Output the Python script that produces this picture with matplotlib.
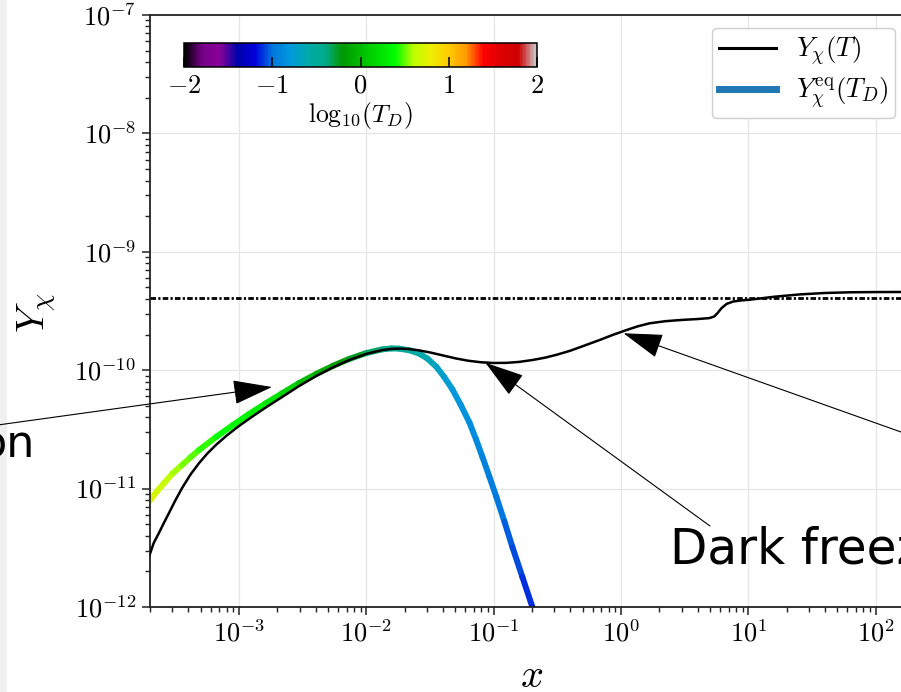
import numpy as np
import matplotlib
matplotlib.use("Agg")
import matplotlib.pyplot as plt
from matplotlib.collections import LineCollection
from matplotlib.colors import Normalize
from matplotlib.lines import Line2D
from matplotlib.patches import Rectangle
from matplotlib.ticker import LogLocator, FuncFormatter, NullFormatter

plt.rcParams['mathtext.fontset'] = 'cm'

# ---- data (log10 values) ----
black_logx = [-3.708, -3.670, -3.629, -3.590, -3.550, -3.500, -3.447, -3.380, -3.314, -3.250,
              -3.180, -3.100, -2.999, -2.900, -2.800, -2.661, -2.530, -2.394, -2.260, -2.135,
              -2.000, -1.875, -1.800, -1.742, -1.680, -1.600, -1.500, -1.400, -1.300, -1.200,
              -1.100, -1.000, -0.900, -0.800, -0.696, -0.600, -0.500, -0.400, -0.300, -0.168,
              -0.060, 0.043, 0.130, 0.224, 0.350, 0.483, 0.600, 0.695, 0.734, 0.760,
              0.790, 0.830, 0.880, 0.950, 1.009, 1.200, 1.402, 1.600, 1.795, 2.000, 2.306]
black_logy = [-11.578, -11.460, -11.375, -11.290, -11.206, -11.100, -10.995, -10.880, -10.785, -10.705,
              -10.630, -10.555, -10.470, -10.395, -10.322, -10.226, -10.135, -10.049, -9.975, -9.914,
              -9.862, -9.830, -9.820, -9.818, -9.820, -9.830, -9.850, -9.875, -9.900, -9.920,
              -9.933, -9.939, -9.938, -9.930, -9.914, -9.895, -9.868, -9.836, -9.797, -9.745,
              -9.700, -9.661, -9.630, -9.604, -9.586, -9.575, -9.568, -9.560, -9.545, -9.515,
              -9.475, -9.440, -9.420, -9.410, -9.405, -9.380, -9.360, -9.348, -9.342, -9.340, -9.339]

eq_logx = [-3.708, -3.650, -3.590, -3.520, -3.447, -3.380, -3.314, -3.180, -3.050, -2.921,
           -2.790, -2.661, -2.530, -2.394, -2.260, -2.135, -2.000, -1.875, -1.800, -1.742,
           -1.660, -1.584, -1.520, -1.451, -1.390, -1.325, -1.260, -1.191, -1.140, -1.089,
           -1.035, -0.979, -0.915, -0.853, -0.775, -0.696, -0.664]
eq_logy = [-11.113, -11.030, -10.955, -10.870, -10.800, -10.735, -10.674, -10.564, -10.465, -10.370,
           -10.280, -10.195, -10.110, -10.032, -9.962, -9.905, -9.855, -9.824, -9.816, -9.818,
           -9.832, -9.860, -9.902, -9.970, -10.055, -10.160, -10.290, -10.440, -10.580, -10.730,
           -10.895, -11.070, -11.280, -11.493, -11.745, -12.000, -12.110]
eq_logTD = [0.75, 0.70, 0.65, 0.60, 0.55, 0.51, 0.48, 0.42, 0.38, 0.33,
            0.27, 0.20, 0.08, -0.05, -0.14, -0.22, -0.31, -0.40, -0.44, -0.48,
            -0.53, -0.58, -0.63, -0.68, -0.73, -0.78, -0.82, -0.86, -0.89, -0.92,
            -0.95, -0.98, -1.02, -1.05, -1.09, -1.13, -1.15]

y_ref = 4.09e-10
cbar_ticks = [-2, -1, 0, 1, 2]

# annotation tips (data, log10) and tails (figure pixels)
arrow_tips_logx = [-2.741, -1.065, 0.0197]
arrow_tips_logy = [-10.142, -9.937, -9.688]
arrow_tails_px = [(-60, 259), (710, 166), (960, 239)]

# ---- figure ----
W, H = 901, 692
fig = plt.figure(figsize=(W / 100, H / 100), dpi=100)
fig.patch.set_facecolor('white')
fig.add_artist(Rectangle((0, 0), 7 / W, 1, transform=fig.transFigure,
                         facecolor='#f0f0f0', edgecolor='none', zorder=0))

ax = fig.add_axes([150 / W, 85 / H, (914 - 150) / W, (607 - 15) / H])
ax.set_xscale('log')
ax.set_yscale('log')
ax.set_xlim(2e-4, 200)
ax.set_ylim(1e-12, 1e-7)

ax.grid(True, which='major', color='#e6e6e6', lw=0.9, zorder=0)
ax.set_axisbelow(True)
for s in ax.spines.values():
    s.set_color('#222222')
    s.set_linewidth(1.3)

ax.xaxis.set_major_locator(LogLocator(base=10, numticks=20))
ax.xaxis.set_minor_locator(LogLocator(base=10, subs=np.arange(2, 10), numticks=20))
ax.yaxis.set_major_locator(LogLocator(base=10, numticks=20))
ax.yaxis.set_minor_locator(LogLocator(base=10, subs=np.arange(2, 10), numticks=20))
fmt = FuncFormatter(lambda v, _: r'$10^{%d}$' % int(round(np.log10(v))))
ax.xaxis.set_major_formatter(fmt)
ax.yaxis.set_major_formatter(fmt)
ax.xaxis.set_minor_formatter(NullFormatter())
ax.yaxis.set_minor_formatter(NullFormatter())
ax.tick_params(which='major', direction='out', length=6, width=1.1, labelsize=19, pad=4, color='#222222')
ax.tick_params(which='minor', direction='out', length=3.5, width=1.0, color='#222222')

# colored equilibrium curve
ex = 10 ** np.array(eq_logx)
ey = 10 ** np.array(eq_logy)
pts = np.column_stack([ex, ey]).reshape(-1, 1, 2)
segs = np.concatenate([pts[:-1], pts[1:]], axis=1)
td = np.array(eq_logTD)
norm = Normalize(-2, 2)
lc = LineCollection(segs, cmap='nipy_spectral', norm=norm, linewidths=4.3,
                    capstyle='round', zorder=2)
lc.set_array(0.5 * (td[:-1] + td[1:]))
ax.add_collection(lc)

ax.axhline(y_ref, color='black', lw=2, linestyle=(0, (2, 0.8, 0.8, 0.8)), zorder=2.5)
ax.plot(10 ** np.array(black_logx), 10 ** np.array(black_logy), color='black', lw=1.8, zorder=3)

ax.set_xlabel(r'$x$', fontsize=29)
ax.set_ylabel(r'$Y_\chi$', fontsize=28)
ax.xaxis.set_label_coords(0.5, -0.117)
ax.xaxis.label.set_va('center')
ax.yaxis.set_label_coords(-0.148, 0.497)
ax.yaxis.label.set_va('center')
ax.yaxis.label.set_ha('center')

# legend
handles = [Line2D([], [], color='black', lw=2.2),
           Line2D([], [], color='#1f77b4', lw=5)]
labels = [r'$Y_\chi(T)$', r'$Y_\chi^{\rm eq}(T_D)$']
leg = ax.legend(handles, labels, loc='upper left', bbox_to_anchor=(712 / W, 1 - 28 / H),
                bbox_transform=fig.transFigure, borderaxespad=0, fontsize=19.5,
                borderpad=0.25, handlelength=2.1, handletextpad=0.75, labelspacing=0.3,
                fancybox=True, framealpha=1)
leg.get_frame().set_edgecolor('#d0d0d0')

# colorbar inset
cax = fig.add_axes([184 / W, (692 - 67) / H, 353 / W, 24 / H])
sm = matplotlib.cm.ScalarMappable(norm=norm, cmap='nipy_spectral')
cb = fig.colorbar(sm, cax=cax, orientation='horizontal', ticks=cbar_ticks)
cb.ax.set_xticklabels([r'$%d$' % t for t in cbar_ticks])
cb.ax.tick_params(direction='in', length=7, width=1.1, labelsize=19, pad=4)
cb.outline.set_linewidth(1.1)
cb.set_label(r'$\mathrm{log}_{10}(T_D)$', fontsize=18.5, labelpad=1)

# annotations
for lx, ly, (tx, ty) in zip(arrow_tips_logx, arrow_tips_logy, arrow_tails_px):
    ax.annotate('', xy=(10 ** lx, 10 ** ly), xycoords='data',
                xytext=(tx, ty), textcoords='figure pixels',
                arrowprops=dict(arrowstyle='-|>,head_length=0.9,head_width=0.28',
                                mutation_scale=28, lw=0.8, color='black',
                                shrinkA=0, shrinkB=0),
                annotation_clip=False, zorder=5)

fig.text(670 / W, 129 / H, 'Dark freeze-out', fontsize=35, family='DejaVu Sans',
         ha='left', va='baseline')
fig.text(35 / W, 235 / H, 'on', fontsize=32, family='DejaVu Sans',
         ha='right', va='baseline')

fig.savefig('out.png', dpi=100)
